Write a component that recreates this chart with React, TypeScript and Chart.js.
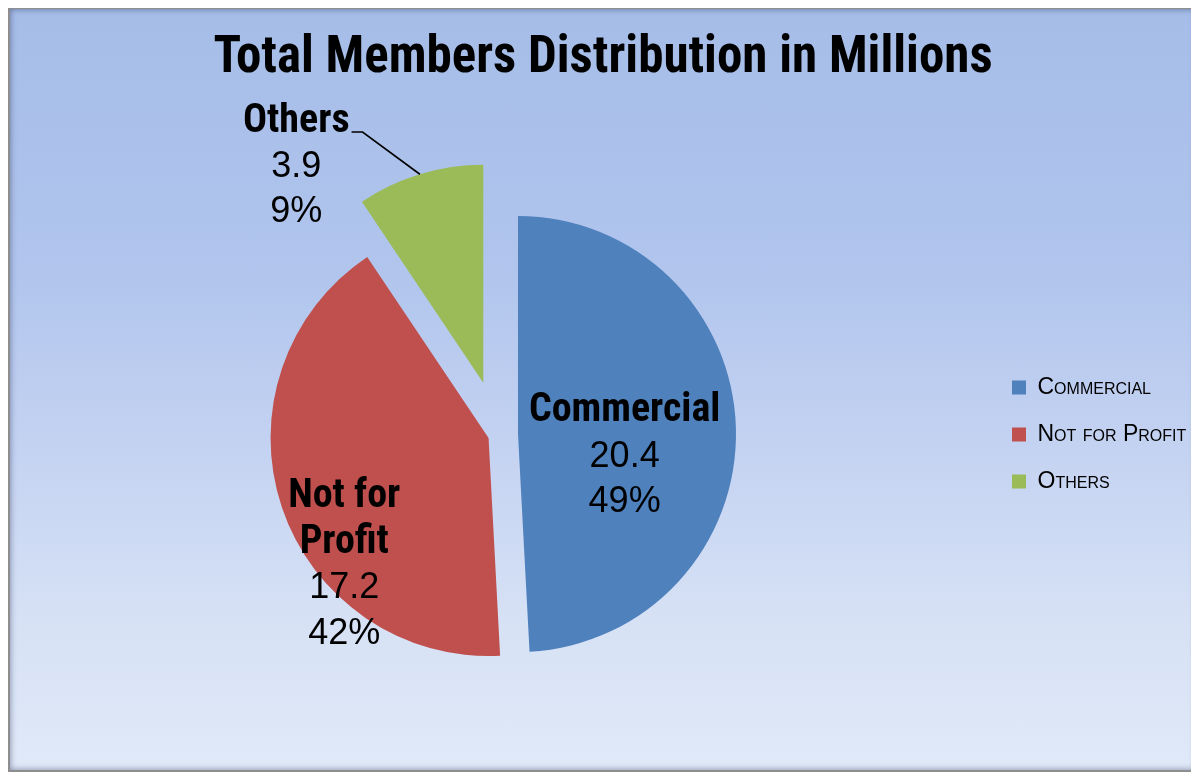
import React, { useEffect, useRef } from "react";
import { Chart, registerables } from "chart.js";

Chart.register(...registerables);

// ---- data ----
const categories = ["Commercial", "Not for Profit", "Others"];
const values = [20.4, 17.2, 3.9];
const valueLabels = ["20.4", "17.2", "3.9"];
const percentLabels = ["49%", "42%", "9%"];
const sliceColors = ["#4F81BD", "#C0504D", "#9BBB59"];
const titleText = "Total Members Distribution in Millions";

const BOLD_FAMILY = "'Roboto Condensed', 'Open Sans Condensed', 'Liberation Sans Narrow', sans-serif";
const REG_FAMILY = "'Liberation Sans', Arial, sans-serif";

// moves each slice outward along its mid angle (exploded pie)
const explodePlugin = {
  id: "explode",
  beforeDatasetsDraw(chart: any, _args: any, opts: any) {
    const { chartArea } = chart;
    const cx = (chartArea.left + chartArea.right) / 2;
    const cy = (chartArea.top + chartArea.bottom) / 2;
    const meta = chart.getDatasetMeta(0);
    meta.data.forEach((el: any, i: number) => {
      const t = (opts.distances && opts.distances[i]) || 0;
      const half = (el.startAngle + el.endAngle) / 2;
      el.x = cx + Math.cos(half) * t;
      el.y = cy + Math.sin(half) * t;
    });
  },
};

function wrapText(ctx: CanvasRenderingContext2D, text: string, maxW: number): string[] {
  const words = text.split(" ");
  const lines: string[] = [];
  let cur = "";
  words.forEach((w) => {
    const test = cur ? cur + " " + w : w;
    if (cur && ctx.measureText(test).width > maxW) {
      lines.push(cur);
      cur = w;
    } else {
      cur = test;
    }
  });
  if (cur) lines.push(cur);
  return lines;
}

const sliceLabelPlugin = {
  id: "sliceLabels",
  afterDatasetsDraw(chart: any, _args: any, opts: any) {
    const ctx: CanvasRenderingContext2D = chart.ctx;
    const meta = chart.getDatasetMeta(0);
    const boldFont = `bold ${opts.boldSize}px ${BOLD_FAMILY}`;
    const regFont = `${opts.regSize}px ${REG_FAMILY}`;
    meta.data.forEach((el: any, i: number) => {
      const p = opts.place[i];
      const half = (el.startAngle + el.endAngle) / 2;
      const a = half + (p.shift * Math.PI) / 180;
      const r = el.outerRadius * p.r;
      const bx = el.x + Math.cos(a) * r;
      const by = el.y + Math.sin(a) * r;
      ctx.save();
      ctx.font = boldFont;
      const nameLines = wrapText(ctx, categories[i], opts.wrapWidth);
      const lines = [
        ...nameLines.map((t) => ({ t, bold: true })),
        { t: valueLabels[i], bold: false },
        { t: percentLabels[i], bold: false },
      ];
      const n = lines.length;
      const lh = opts.lineHeight;
      ctx.fillStyle = "#000";
      ctx.textAlign = "center";
      ctx.textBaseline = "middle";
      lines.forEach((ln, k) => {
        ctx.font = ln.bold ? boldFont : regFont;
        ctx.fillText(ln.t, bx, by + (k - (n - 1) / 2) * lh);
      });
      if (p.leader) {
        ctx.font = boldFont;
        const w = ctx.measureText(nameLines[0]).width;
        const y0 = by - ((n - 1) / 2) * lh + opts.leaderDrop;
        const right = bx + w / 2 + 2;
        const ex = el.x + Math.cos(half) * el.outerRadius;
        const ey = el.y + Math.sin(half) * el.outerRadius;
        ctx.beginPath();
        ctx.moveTo(right, y0);
        ctx.lineTo(right + 11, y0);
        ctx.lineTo(ex, ey);
        ctx.lineWidth = 1.6;
        ctx.strokeStyle = "#000";
        ctx.stroke();
      }
      ctx.restore();
    });
  },
};

export default function App() {
  const canvasRef = useRef<HTMLCanvasElement | null>(null);

  useEffect(() => {
    if (!canvasRef.current) return;
    const chart = new Chart(canvasRef.current, {
      type: "pie",
      data: {
        labels: categories,
        datasets: [
          {
            data: values,
            backgroundColor: sliceColors,
            borderWidth: 0,
            radius: 218,
          } as any,
        ],
      },
      options: {
        responsive: false,
        animation: false,
        events: [],
        layout: { padding: 0 },
        plugins: {
          title: {
            display: true,
            text: titleText,
            color: "#000",
            font: { family: BOLD_FAMILY, size: 51, weight: "bold", lineHeight: 1.2 },
            padding: { top: 20, bottom: 9.8 },
          },
          legend: {
            position: "right",
            fullSize: false,
            maxWidth: 208,
            labels: {
              boxWidth: 14,
              boxHeight: 14,
              padding: 24,
              color: "#000",
              font: { family: REG_FAMILY, size: 23, weight: "small-caps" as any },
            },
          },
          tooltip: { enabled: false },
          explode: { distances: [19, 11, 54] },
          sliceLabels: {
            boldSize: 40,
            regSize: 36,
            lineHeight: 45.5,
            wrapWidth: 140,
            leaderDrop: 10.5,
            place: [
              { shift: 13.5, r: 0.5, leader: false },
              { shift: -23, r: 0.883, leader: false },
              { shift: -24, r: 1.31, leader: true },
            ],
          },
        } as any,
      },
      plugins: [explodePlugin, sliceLabelPlugin],
    });
    return () => chart.destroy();
  }, []);

  return (
    <div
      style={{
        position: "relative",
        marginTop: -1,
        width: 1190,
        height: 765,
        boxSizing: "border-box",
        border: "2px solid #8e8e8e",
        boxShadow: "inset 0 0 6px rgba(40,50,90,0.55)",
        background:
          "linear-gradient(to bottom, #a5bde8 0%, #b1c5ed 35%, #c6d4f2 60%, #d6e1f5 80%, #e0e9f8 100%)",
      }}
    >
      <canvas ref={canvasRef} width={1186} height={760} style={{ display: "block" }} />
    </div>
  );
}
